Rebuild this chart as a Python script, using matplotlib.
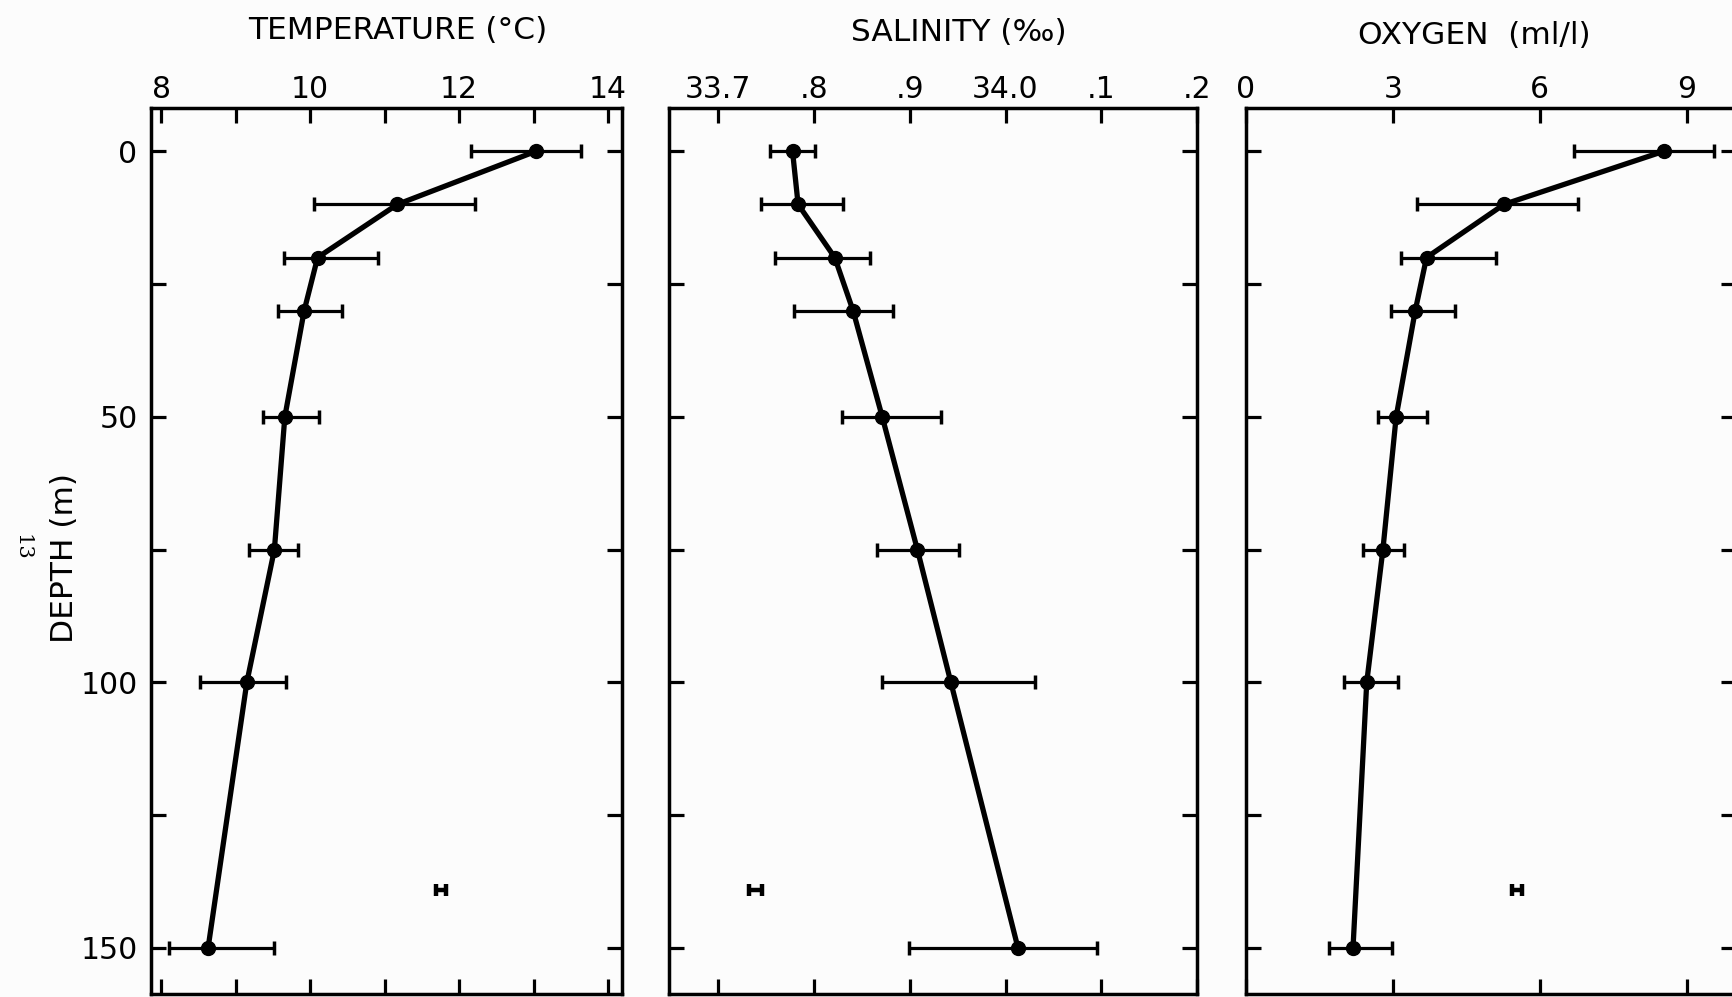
import matplotlib.pyplot as plt

# depth of each sample (m)
depth = [0, 10, 20, 30, 50, 75, 100, 150]

# temperature (C): mean, low and high end of the bar
temp = [13.03, 11.17, 10.10, 9.92, 9.66, 9.52, 9.15, 8.63]
temp_lo = [12.16, 10.05, 9.65, 9.57, 9.37, 9.18, 8.52, 8.11]
temp_hi = [13.64, 12.21, 10.91, 10.43, 10.12, 9.84, 9.68, 9.52]

# salinity (per mil)
sal = [33.7775, 33.7833, 33.8216, 33.8407, 33.8712, 33.9079, 33.9429, 34.013]
sal_lo = [33.7543, 33.745, 33.759, 33.779, 33.8295, 33.8659, 33.8712, 33.8993]
sal_hi = [33.8007, 33.8297, 33.8587, 33.882, 33.9324, 33.9516, 34.0304, 34.0954]

# oxygen (ml/l)
oxy = [8.53, 5.27, 3.69, 3.46, 3.07, 2.80, 2.47, 2.19]
oxy_lo = [6.69, 3.49, 3.17, 2.96, 2.69, 2.40, 2.00, 1.71]
oxy_hi = [9.55, 6.79, 5.11, 4.28, 3.70, 3.24, 3.11, 2.98]

# small reference bar drawn in each panel (centre, half width)
ref_depth = 139
temp_ref = (11.76, 0.07)
sal_ref = (33.739, 0.007)
oxy_ref = (5.53, 0.1)

depth_ticks = [0, 25, 50, 75, 100, 125, 150]
depth_labels = ['0', '', '50', '', '100', '', '150']

temp_ticks = [8, 9, 10, 11, 12, 13, 14]
temp_labels = ['8', '', '10', '', '12', '', '14']
sal_ticks = [33.7, 33.8, 33.9, 34.0, 34.1, 34.2]
sal_labels = ['33.7', '.8', '.9', '34.0', '.1', '.2']
oxy_ticks = [0, 3, 6, 9]
oxy_labels = ['0', '3', '6', '9']

plt.rcParams['font.family'] = ['DejaVu Sans']
bg = '#fcfcfc'

fig = plt.figure(figsize=(17.33, 9.97), dpi=100, facecolor=bg)

bottom, height = 0.0034, 0.888
panels = [
    # left, width, x, lo, hi, ref, xlim, ticks, labels
    (0.0874, 0.2717, temp, temp_lo, temp_hi, temp_ref, (7.87, 14.19), temp_ticks, temp_labels),
    (0.3858, 0.3049, sal, sal_lo, sal_hi, sal_ref, (33.648, 34.2), sal_ticks, sal_labels),
    (0.7188, 0.2828, oxy, oxy_lo, oxy_hi, oxy_ref, (0, 10), oxy_ticks, oxy_labels),
]

for i, (left, width, x, lo, hi, ref, xlim, ticks, labels) in enumerate(panels):
    ax = fig.add_axes([left, bottom, width, height], facecolor=bg)
    err = [[v - l for v, l in zip(x, lo)], [h - v for v, h in zip(x, hi)]]
    ax.errorbar(x, depth, xerr=err, fmt='o-', color='black', lw=3.8, ms=10,
                elinewidth=2.3, ecolor='black', capsize=5, capthick=2.5)
    ax.errorbar([ref[0]], [ref_depth], xerr=[ref[1]], fmt='none', ecolor='black',
                elinewidth=3.2, capsize=4.5, capthick=3.2)
    ax.set_xlim(*xlim)
    ax.set_ylim(158.6, -8.1)
    ax.set_xticks(ticks)
    ax.set_xticklabels(labels)
    ax.set_yticks(depth_ticks)
    if i == 0:
        ax.set_yticklabels(depth_labels)
    else:
        ax.set_yticklabels([])
    ax.tick_params(axis='both', direction='in', length=11, width=2.3,
                   top=True, bottom=True, left=True, right=True,
                   labeltop=True, labelbottom=False, labelsize=21.5)
    ax.tick_params(axis='x', pad=3)
    ax.tick_params(axis='y', pad=10)
    for s in ax.spines.values():
        s.set_linewidth(2.5)

fig.text(0.2297, 0.969, 'TEMPERATURE (°C)', fontsize=22.5, ha='center', va='center')
fig.text(0.553, 0.967, 'SALINITY (‰)', fontsize=22.5, ha='center', va='center')
fig.text(0.851, 0.964, 'OXYGEN  (ml/l)', fontsize=22.5, ha='center', va='center')
fig.text(0.0375, 0.44, 'DEPTH (m)', fontsize=22.5, rotation=90, ha='center', va='center')
fig.text(0.0127, 0.451, '13', fontsize=15, rotation=-90, ha='center', va='center',
         family='DejaVu Serif')

fig.savefig('out.png', dpi=100, facecolor=bg)
